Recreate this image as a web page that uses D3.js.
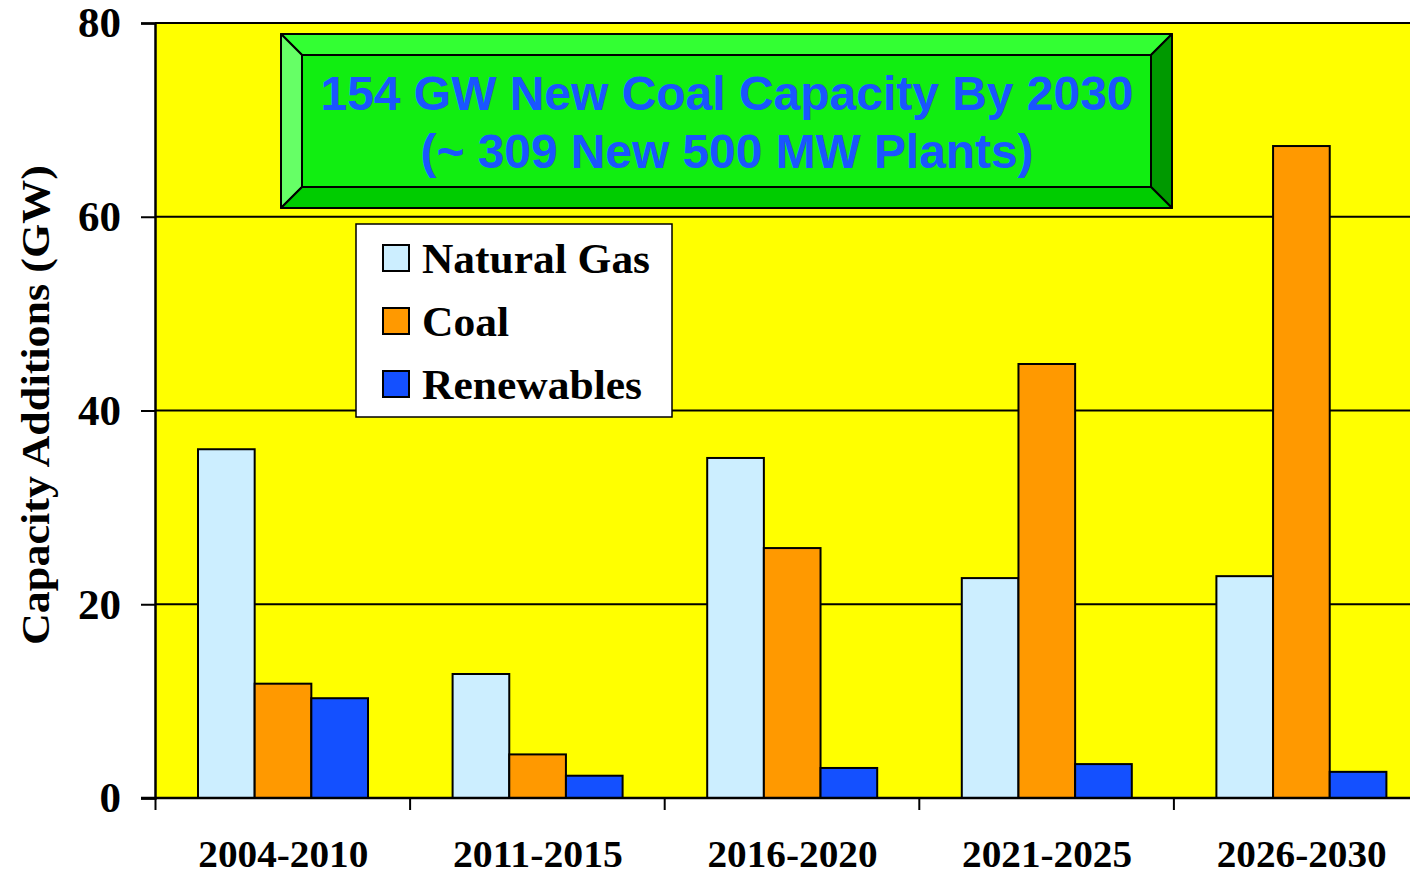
<!DOCTYPE html>
<html>
<head>
<meta charset="utf-8">
<script src="https://cdn.jsdelivr.net/npm/d3@7"></script>
<style>
  body { margin: 0; background: #fff; }
  svg { display: block; }
</style>
</head>
<body>
<div class="chart"></div>
<script>
// periods and series
const periods = ["2004-2010", "2011-2015", "2016-2020", "2021-2025", "2026-2030"]
const seriesNames = ["Natural Gas", "Coal", "Renewables"]
const naturalGas = [36, 12.8, 35.1, 22.7, 22.9]
const coal = [11.8, 4.5, 25.8, 44.8, 67.3]
const renewables = [10.3, 2.3, 3.1, 3.5, 2.7]
const yTicks = [0, 20, 40, 60, 80]
const titleLines = ["154 GW New Coal Capacity By 2030", "(~ 309 New 500 MW Plants)"]

const colors = { "Natural Gas": "#cceeff", "Coal": "#ff9900", "Renewables": "#1450ff" }

const width = 1410
const height = 874
const margin = { top: 23, left: 155, bottom: 76 }
const band = 254.6
const serif = "'Liberation Serif', 'Times New Roman', serif"

const svg = d3.select(".chart").append("svg")
  .attr("width", width).attr("height", height)

const x = d3.scaleBand()
  .domain(periods)
  .range([margin.left, margin.left + band * periods.length])

const sub = d3.scaleBand()
  .domain(seriesNames)
  .range([43, 213])

const y = d3.scaleLinear()
  .domain([0, 80])
  .range([height - margin.bottom, margin.top])

const rows = periods.map((p, i) => ({
  period: p,
  values: [
    { name: "Natural Gas", v: naturalGas[i] },
    { name: "Coal", v: coal[i] },
    { name: "Renewables", v: renewables[i] },
  ],
}))

// plot background
svg.append("rect")
  .attr("x", margin.left).attr("y", y(80))
  .attr("width", width - margin.left).attr("height", y(0) - y(80))
  .attr("fill", "#ffff00")

// gridlines
svg.append("g")
  .selectAll("line")
  .data(yTicks.filter((d) => d > 0))
  .join("line")
  .attr("x1", margin.left).attr("x2", width)
  .attr("y1", (d) => y(d)).attr("y2", (d) => y(d))
  .attr("stroke", "#000").attr("stroke-width", 2)

// bars
svg.append("g")
  .selectAll("g")
  .data(rows)
  .join("g")
  .attr("transform", (d) => `translate(${x(d.period)},0)`)
  .selectAll("rect")
  .data((d) => d.values)
  .join("rect")
  .attr("x", (d) => sub(d.name))
  .attr("width", sub.bandwidth())
  .attr("y", (d) => y(d.v))
  .attr("height", (d) => y(0) - y(d.v))
  .attr("fill", (d) => colors[d.name])
  .attr("stroke", "#000").attr("stroke-width", 2)

// y axis
const yAxis = svg.append("g")
  .attr("transform", `translate(${margin.left},0)`)
  .call(d3.axisLeft(y).tickValues(yTicks).tickSize(14).tickPadding(20))
yAxis.select(".domain").attr("stroke-width", 2.5)
yAxis.selectAll("line").attr("stroke-width", 2)
yAxis.selectAll("text")
  .attr("font-family", serif)
  .attr("font-weight", "bold").attr("font-size", "43px").attr("fill", "#000")

// x axis line + boundary ticks
const xEdge = d3.scaleLinear().domain([0, periods.length])
  .range([margin.left, margin.left + band * periods.length])
const xAxis = svg.append("g")
  .attr("transform", `translate(0,${y(0)})`)
  .call(d3.axisBottom(xEdge).tickValues(d3.range(periods.length + 1)).tickSize(12).tickFormat("").tickSizeOuter(0))
xAxis.select(".domain").attr("stroke-width", 2.5)
  .attr("d", `M${margin.left - 14},0H${width}`)
xAxis.selectAll("line").attr("stroke-width", 2)

// category labels
svg.append("g")
  .selectAll("text")
  .data(periods)
  .join("text")
  .attr("x", (d) => x(d) + band / 2 + 1)
  .attr("y", 867)
  .attr("text-anchor", "middle")
  .attr("font-family", serif)
  .attr("font-weight", "bold").attr("font-size", "37px")
  .attr("textLength", 170).attr("lengthAdjust", "spacingAndGlyphs")
  .text((d) => d)

// y title
svg.append("text")
  .attr("transform", "translate(49,405) rotate(-90)")
  .attr("text-anchor", "middle")
  .attr("font-family", serif)
  .attr("font-weight", "bold").attr("font-size", "40px")
  .attr("textLength", 480).attr("lengthAdjust", "spacingAndGlyphs")
  .text("Capacity Additions (GW)")

// bevelled title box
const bx = 281, by = 34, bw = 891, bh = 174, bev = 21
const ix = bx + bev, iy = by + bev, iw = bw - 2 * bev, ih = bh - 2 * bev
const title = svg.append("g")
const bevel = [
  { c: "#33ff33", p: [[bx, by], [bx + bw, by], [ix + iw, iy], [ix, iy]] },
  { c: "#66ff66", p: [[bx, by], [ix, iy], [ix, iy + ih], [bx, by + bh]] },
  { c: "#009900", p: [[bx + bw, by], [bx + bw, by + bh], [ix + iw, iy + ih], [ix + iw, iy]] },
  { c: "#00cc00", p: [[bx, by + bh], [ix, iy + ih], [ix + iw, iy + ih], [bx + bw, by + bh]] },
]
title.selectAll("path")
  .data(bevel)
  .join("path")
  .attr("d", (d) => "M" + d.p.join("L") + "Z")
  .attr("fill", (d) => d.c)
  .attr("stroke", "#000").attr("stroke-width", 2).attr("stroke-linejoin", "round")
title.append("rect")
  .attr("x", ix).attr("y", iy).attr("width", iw).attr("height", ih)
  .attr("fill", "#11ee11").attr("stroke", "#000").attr("stroke-width", 2)
title.selectAll("text")
  .data(titleLines)
  .join("text")
  .attr("x", 727)
  .attr("y", (d, i) => 110 + i * 58)
  .attr("text-anchor", "middle")
  .attr("font-family", "'Liberation Sans', Arial, sans-serif")
  .attr("font-weight", "bold").attr("font-size", "48px")
  .attr("fill", "#1a55ff")
  .attr("textLength", (d, i) => (i === 0 ? 813 : 613))
  .attr("lengthAdjust", "spacingAndGlyphs")
  .text((d) => d)

// legend
const legend = svg.append("g").attr("transform", "translate(356,224)")
legend.append("rect")
  .attr("width", 316).attr("height", 193)
  .attr("fill", "#fff").attr("stroke", "#000").attr("stroke-width", 1.5)
const item = legend.selectAll("g")
  .data(seriesNames)
  .join("g")
  .attr("transform", (d, i) => `translate(27,${21 + i * 63})`)
item.append("rect")
  .attr("width", 26).attr("height", 26)
  .attr("fill", (d) => colors[d])
  .attr("stroke", "#000").attr("stroke-width", 2)
item.append("text")
  .attr("x", 39).attr("y", 28)
  .attr("font-family", serif)
  .attr("font-weight", "bold").attr("font-size", "42px")
  .attr("textLength", (d) => ({ "Natural Gas": 228, "Coal": 87, "Renewables": 220 })[d])
  .attr("lengthAdjust", "spacingAndGlyphs")
  .text((d) => d)
</script>
</body>
</html>
